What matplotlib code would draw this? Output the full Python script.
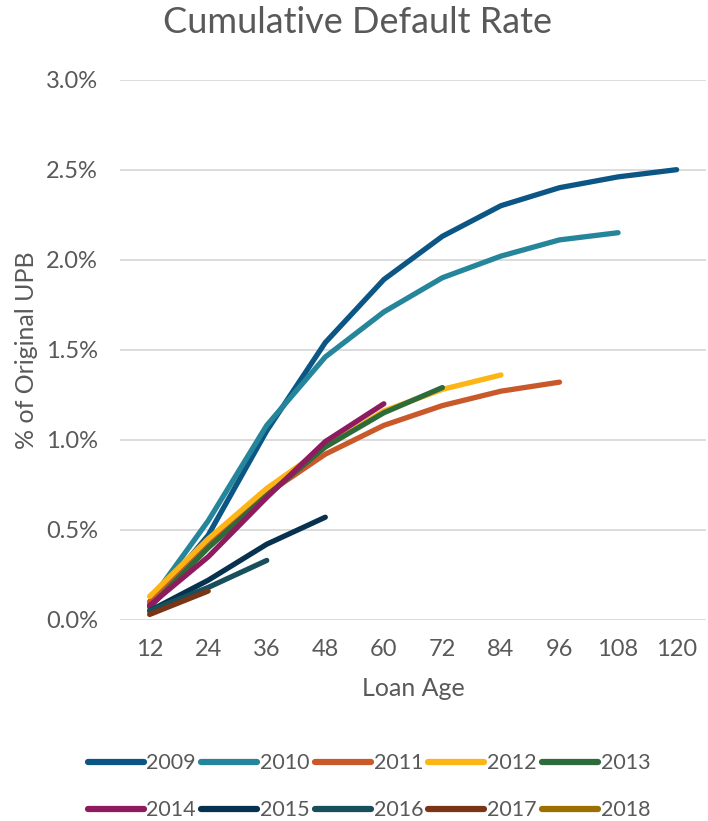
import matplotlib
matplotlib.use("Agg")
import matplotlib.pyplot as plt
from matplotlib.ticker import FuncFormatter

plt.rcParams['font.family'] = ['Lato', 'DejaVu Sans']

# Data
loan_age = [12, 24, 36, 48, 60, 72, 84, 96, 108, 120]
years = ['2009', '2010', '2011', '2012', '2013', '2014', '2015', '2016', '2017', '2018']
v2009 = [0.08, 0.47, 1.05, 1.54, 1.89, 2.13, 2.30, 2.40, 2.46, 2.50]
v2010 = [0.10, 0.55, 1.08, 1.46, 1.71, 1.90, 2.02, 2.11, 2.15]
v2011 = [0.10, 0.42, 0.70, 0.92, 1.08, 1.19, 1.27, 1.32]
v2012 = [0.13, 0.45, 0.73, 0.96, 1.16, 1.28, 1.36]
v2013 = [0.07, 0.40, 0.69, 0.96, 1.15, 1.29]
v2014 = [0.08, 0.35, 0.68, 0.99, 1.20]
v2015 = [0.05, 0.22, 0.42, 0.57]
v2016 = [0.05, 0.18, 0.33]
v2017 = [0.03, 0.16]
v2018 = [0.04]
series = [v2009, v2010, v2011, v2012, v2013, v2014, v2015, v2016, v2017, v2018]
colors = ['#0B5685', '#25859A', '#C9582A', '#FDB515', '#2E6B3A',
          '#8E1B5E', '#06324F', '#184F5B', '#7A3416', '#9B7000']

txt = '#595959'

fig = plt.figure(figsize=(7.08, 8.21), dpi=100)
ax = fig.add_axes([0.17, 0.245, 0.827, 0.658])

lines = []
for yr, vals, c in zip(years, series, colors):
    ln, = ax.plot(loan_age[:len(vals)], vals, color=c, lw=3.8, solid_capstyle='round',
                  solid_joinstyle='round', label=yr)
    lines.append(ln)

ax.set_xlim(6, 126)
ax.set_ylim(0, 3.0)
ax.set_xticks(loan_age)
ax.set_yticks([0, 0.5, 1.0, 1.5, 2.0, 2.5, 3.0])
ax.yaxis.set_major_formatter(FuncFormatter(lambda v, p: f'{v:.1f}%'))
ax.grid(axis='y', color='#d9d9d9', lw=1.3)
ax.set_axisbelow(True)
for s in ax.spines.values():
    s.set_visible(False)
ax.tick_params(length=0, labelsize=17, colors=txt)
ax.tick_params(axis='y', pad=16)
ax.tick_params(axis='x', pad=14)

fig.suptitle('Cumulative Default Rate', fontsize=26, color=txt, x=0.505, y=0.993)
ax.set_xlabel('Loan Age', fontsize=18, color=txt, labelpad=12)
ax.set_ylabel('% of Original UPB', fontsize=18, color=txt, labelpad=6)

# legend filled row by row
order = [0, 5, 1, 6, 2, 7, 3, 8, 4, 9]
leg = fig.legend([lines[i] for i in order], [years[i] for i in order],
                 loc='upper left', bbox_to_anchor=(0.112, 0.093), ncol=5,
                 frameon=False, fontsize=15.5, handlelength=2.6, handletextpad=0.12,
                 columnspacing=0.25, labelspacing=1.25, borderaxespad=0)
for t in leg.get_texts():
    t.set_color(txt)
for h in leg.get_lines():
    h.set_linewidth(4.5)

fig.savefig('out.png', dpi=100)
